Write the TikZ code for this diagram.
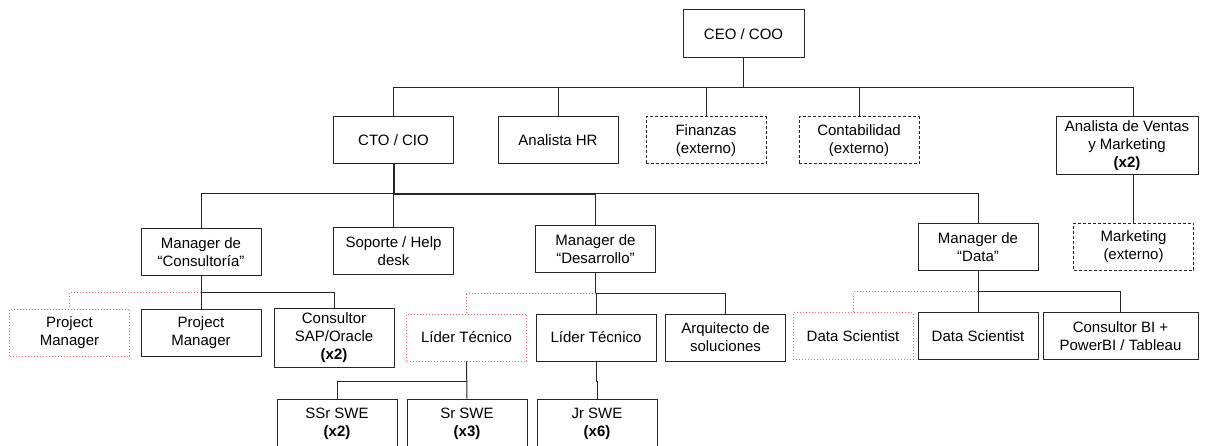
\documentclass[tikz,border=0pt]{standalone}
\usepackage{fontspec}
\setmainfont{Liberation Sans}
\tikzset{
  box/.style     = {draw=black!85, line width=1pt, fill=white, minimum width=120pt,
                    minimum height=47pt, inner sep=2pt, align=center,
                    font=\fontsize{15}{18}\selectfont},
  ext/.style     = {box, dash pattern=on 3pt off 2pt},
  alt/.style     = {box, draw=red!60, dotted},
  wire/.style    = {draw=black!85, line width=1pt},
  trunk/.style   = {wire, line width=2pt},
  altwire/.style = {draw=red!60, line width=1pt, dotted},
}

\begin{document}
\begin{tikzpicture}[x=1pt,y=-1pt]
  \useasboundingbox (0,0) rectangle (1207,446);
  \clip (0,0) rectangle (1207,446);

  % direccion
  \node[box, minimum width=121pt, minimum height=48pt] (ceo) at (743.5,34) {CEO / COO};
  \node[box] (cto)  at (393.5,140.5) {CTO / CIO};
  \node[box] (hr)   at (558,140.5)   {Analista HR};
  \node[ext] (fin)  at (706,140.5)   {Finanzas\\(externo)};
  \node[ext] (cont) at (859,140.5)   {Contabilidad\\(externo)};
  \node[box, minimum width=142pt, minimum height=58pt] (ventas) at (1127,146)
        {Analista de Ventas\\y Marketing\\\textbf{(x2)}};
  \node[ext] (mkt)  at (1133.5,247)  {Marketing\\(externo)};

  % managers
  \node[box] (mcons) at (201,252.5)   {Manager de\\“Consultoría”};
  \node[box] (sop)   at (393.5,251.5) {Soporte / Help\\desk};
  \node[box] (mdes)  at (595.5,249)   {Manager de\\“Desarrollo”};
  \node[box] (mdata) at (978,247)     {Manager de\\“Data”};

  % equipos
  \node[alt] (pm1) at (69.5,332.5) {Project\\Manager};
  \node[box] (pm2) at (201,332.5)  {Project\\Manager};
  \node[box, minimum height=59pt] (sap) at (334,337.5) {Consultor\\SAP/Oracle\\\textbf{(x2)}};
  \node[alt] (lt1) at (466.5,337.5) {Líder Técnico};
  \node[box] (lt2) at (596,337.5)   {Líder Técnico};
  \node[box] (arq) at (725.5,337.5) {Arquitecto de\\soluciones};
  \node[alt] (ds1) at (853,336)     {Data Scientist};
  \node[box] (ds2) at (978,336)     {Data Scientist};
  \node[box, minimum width=155pt] (bi) at (1120.5,336) {Consultor BI +\\PowerBI / Tableau};

  \node[box, minimum height=50pt] (ssr) at (337,424) {SSr SWE\\\textbf{(x2)}};
  \node[box, minimum height=50pt] (sr)  at (467,424) {Sr SWE\\\textbf{(x3)}};
  \node[box, minimum height=50pt] (jr)  at (597,424) {Jr SWE\\\textbf{(x6)}};

  % buses
  \coordinate (bus0) at (0,88);
  \coordinate (bus1) at (0,194);
  \coordinate (cbus) at (0,293);
  \coordinate (dbus) at (0,294);
  \coordinate (abus) at (0,292);
  \coordinate (tbus) at (0,381);

  \draw[wire] (ceo.south) -- (ceo.south |- bus0);
  \foreach \n in {cto,hr,fin,cont}
    \draw[wire] (ceo.south |- bus0) -| (\n.north);
  \draw[wire] (ceo.south |- bus0) -| (mkt.north |- ventas.north);
  \draw[wire] (mkt.north |- ventas.south) -- (mkt.north);

  \draw[trunk] (cto.south) |- (mdes.north |- bus1);
  \foreach \n in {mcons,sop,mdes,mdata}
    \draw[wire] (cto.south |- bus1) -| (\n.north);

  \draw[wire] (mcons.south) -- (pm2.north);
  \draw[wire] (mcons.south |- cbus) -| (sap.north);
  \draw[altwire] (mcons.south |- cbus) -| (pm1.north);

  \draw[wire] (mdes.south) -- (mdes.south |- dbus) -| (lt2.north);
  \draw[wire] (mdes.south |- dbus) -| (arq.north);
  \draw[altwire] (mdes.south |- dbus) -| (lt1.north);

  \draw[wire] (mdata.south) -- (ds2.north);
  \draw[wire] (mdata.south |- abus) -| (bi.north);
  \draw[altwire] (mdata.south |- abus) -| (ds1.north);

  \draw[wire] (lt1.south) -- (sr.north);
  \draw[wire] (lt1.south |- tbus) -| (ssr.north);
  \draw[wire] (lt2.south) -- (lt2.south |- tbus) -| (jr.north);
\end{tikzpicture}
\end{document}
